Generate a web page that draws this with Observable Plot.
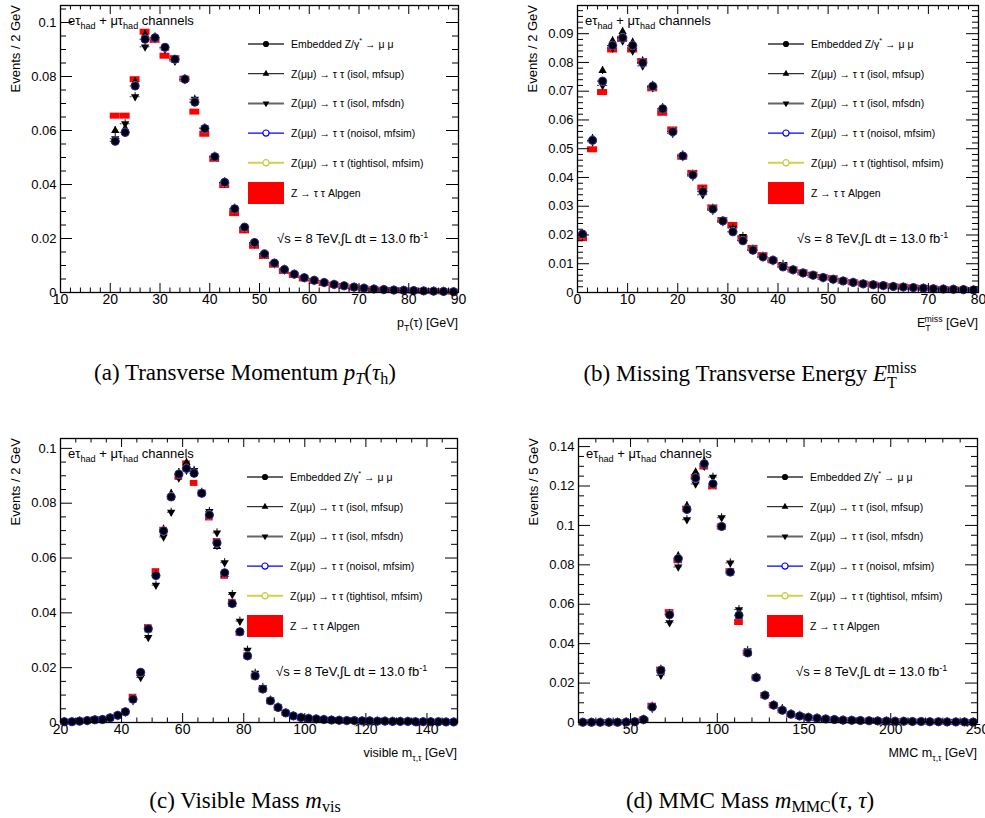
<!DOCTYPE html>
<html><head><meta charset="utf-8">
<script src="https://cdn.jsdelivr.net/npm/d3@7"></script>
<script src="https://cdn.jsdelivr.net/npm/@observablehq/plot@0.6"></script>
<style>
html,body{margin:0;padding:0;background:#fff;}
body{width:985px;height:818px;position:relative;overflow:hidden;font-family:"Liberation Sans",Arial,sans-serif;}
.panel{position:absolute;}
.cap{position:absolute;font-family:"Liberation Serif","Times New Roman",serif;font-size:23px;white-space:nowrap;transform:translateX(-50%);color:#000;}
.cap sub{font-size:0.7em;vertical-align:-0.25em;line-height:0;}
.ss{display:inline-block;vertical-align:-0.45em;line-height:0.95;font-size:0.7em;text-align:left;}
.ss span{display:block;}
</style></head><body>
<script>
// ---------------- DATA ----------------
// Legend labels
const legendEmbedded = ["Embedded Z/γ", "*", " → μ μ"];
const legendLabels = [
  "Z(μμ) → τ τ (isol, mfsup)",
  "Z(μμ) → τ τ (isol, mfsdn)",
  "Z(μμ) → τ τ (noisol, mfsim)",
  "Z(μμ) → τ τ (tightisol, mfsim)"
];
const legendAlpgen = "Z → τ τ Alpgen";
const lumiText = ["√s = 8 TeV,∫L dt = 13.0 fb", "-1"];
const channelText = ["eτ", "had", " + μτ", "had", " channels"];

// (a) pT(tau): bins of 2 GeV from 20
const aBinLo = 20, aBinW = 2;
const aEmb = [0.0560,0.0593,0.0765,0.0938,0.0944,0.0908,0.0864,0.0790,0.0705,0.0607,0.0503,0.0408,0.0310,0.0242,0.0185,0.0143,0.0109,0.0085,0.0068,0.0055,0.0045,0.0037,0.0030,0.0025,0.0020,0.0016,0.0013,0.0011,0.0009,0.0008,0.0007,0.0006,0.0005,0.0004,0.0003];
const aUp  = [0.0600,0.0608,0.0780,0.0956,0.0946,0.0905,0.0860,0.0792,0.0712,0.0605,0.0500,0.0410,0.0312,0.0240,0.0183,0.0141,0.0108,0.0086,0.0068,0.0055,0.0045,0.0037,0.0030,0.0025,0.0020,0.0016,0.0013,0.0011,0.0009,0.0008,0.0007,0.0006,0.0005,0.0004,0.0003];
const aDn  = [0.0570,0.0625,0.0725,0.0910,0.0940,0.0902,0.0857,0.0788,0.0716,0.0610,0.0505,0.0405,0.0305,0.0238,0.0180,0.0140,0.0106,0.0083,0.0067,0.0054,0.0044,0.0036,0.0029,0.0024,0.0019,0.0015,0.0012,0.0010,0.0009,0.0008,0.0007,0.0006,0.0005,0.0004,0.0003];
const aAlp = [0.0655,0.0655,0.0790,0.0966,0.0936,0.0877,0.0868,0.0792,0.0670,0.0588,0.0495,0.0398,0.0294,0.0230,0.0173,0.0135,0.0103,0.0080,0.0065,0.0052,0.0043,0.0035,0.0029,0.0024,0.0019,0.0015,0.0012,0.0010,0.0009,0.0008,0.0007,0.0006,0.0005,0.0004,0.0003];
const aXTicks = [10,20,30,40,50,60,70,80,90];
const aYTicks = [0,0.02,0.04,0.06,0.08,0.1];

// (b) MET: bins of 2 GeV from 0
const bBinLo = 0, bBinW = 2;
const bEmb = [0.0203,0.0529,0.0735,0.0859,0.0886,0.0859,0.0799,0.0717,0.0639,0.0559,0.0475,0.0409,0.0351,0.0290,0.0249,0.0211,0.0180,0.0147,0.0124,0.0112,0.0089,0.0079,0.0068,0.0060,0.0052,0.0046,0.0040,0.0035,0.0030,0.0027,0.0024,0.0021,0.0019,0.0017,0.0015,0.0013,0.0012,0.0011,0.0010,0.0009];
const bUp  = [0.0200,0.0535,0.0772,0.0875,0.0907,0.0870,0.0805,0.0720,0.0642,0.0557,0.0478,0.0411,0.0355,0.0293,0.0250,0.0215,0.0183,0.0150,0.0126,0.0113,0.0091,0.0080,0.0069,0.0060,0.0052,0.0046,0.0040,0.0035,0.0030,0.0027,0.0024,0.0021,0.0019,0.0017,0.0015,0.0013,0.0012,0.0011,0.0010,0.0009];
const bDn  = [0.0198,0.0524,0.0720,0.0850,0.0875,0.0840,0.0788,0.0712,0.0635,0.0553,0.0472,0.0404,0.0340,0.0285,0.0245,0.0224,0.0195,0.0150,0.0122,0.0110,0.0098,0.0078,0.0067,0.0059,0.0051,0.0045,0.0040,0.0035,0.0030,0.0027,0.0024,0.0021,0.0019,0.0017,0.0015,0.0013,0.0012,0.0011,0.0010,0.0009];
const bAlp = [0.0189,0.0498,0.0697,0.0845,0.0882,0.0845,0.0805,0.0710,0.0625,0.0567,0.0472,0.0416,0.0365,0.0296,0.0252,0.0235,0.0189,0.0155,0.0130,0.0112,0.0095,0.0080,0.0070,0.0062,0.0054,0.0050,0.0041,0.0036,0.0031,0.0028,0.0025,0.0022,0.0020,0.0018,0.0016,0.0014,0.0012,0.0011,0.0010,0.0009];
const bXTicks = [0,10,20,30,40,50,60,70,80];
const bYTicks = [0,0.01,0.02,0.03,0.04,0.05,0.06,0.07,0.08,0.09];

// (c) visible mass: bins of 2.5 GeV from 20
const cBinLo = 20, cBinW = 2.5;
const cEmb = [0.0003,0.0003,0.0005,0.0007,0.0010,0.0011,0.0017,0.0026,0.0039,0.0085,0.0183,0.0342,0.0536,0.0699,0.0823,0.0906,0.0927,0.0909,0.0836,0.0757,0.0655,0.0546,0.0434,0.0331,0.0243,0.0170,0.0122,0.0079,0.0055,0.0035,0.0024,0.0018,0.0015,0.0013,0.0011,0.0009,0.0008,0.0007,0.0007,0.0006,0.0006,0.0005,0.0005,0.0004,0.0004,0.0004,0.0003,0.0003,0.0003,0.0003,0.0002,0.0002];
const cUp  = [0.0003,0.0003,0.0005,0.0007,0.0010,0.0011,0.0017,0.0026,0.0039,0.0083,0.0178,0.0338,0.0538,0.0705,0.0835,0.0912,0.0948,0.0915,0.0838,0.0760,0.0642,0.0540,0.0430,0.0328,0.0240,0.0172,0.0122,0.0079,0.0055,0.0035,0.0024,0.0018,0.0015,0.0013,0.0011,0.0009,0.0008,0.0007,0.0007,0.0006,0.0006,0.0005,0.0005,0.0004,0.0004,0.0004,0.0003,0.0003,0.0003,0.0003,0.0002,0.0002];
const cDn  = [0.0003,0.0003,0.0005,0.0007,0.0010,0.0011,0.0016,0.0025,0.0037,0.0080,0.0164,0.0310,0.0501,0.0677,0.0767,0.0892,0.0920,0.0920,0.0840,0.0770,0.0692,0.0583,0.0467,0.0370,0.0264,0.0180,0.0128,0.0082,0.0057,0.0036,0.0025,0.0019,0.0015,0.0013,0.0011,0.0009,0.0008,0.0007,0.0007,0.0006,0.0006,0.0005,0.0005,0.0004,0.0004,0.0004,0.0003,0.0003,0.0003,0.0003,0.0002,0.0002];
const cAlp = [0.0003,0.0003,0.0005,0.0007,0.0012,0.0012,0.0017,0.0026,0.0040,0.0094,0.0180,0.0348,0.0552,0.0703,0.0823,0.0896,0.0945,0.0874,0.0836,0.0748,0.0662,0.0535,0.0440,0.0327,0.0245,0.0168,0.0121,0.0078,0.0054,0.0035,0.0024,0.0018,0.0015,0.0013,0.0011,0.0009,0.0008,0.0007,0.0007,0.0006,0.0006,0.0005,0.0005,0.0004,0.0004,0.0004,0.0003,0.0003,0.0003,0.0003,0.0002,0.0002];
const cXTicks = [20,40,60,80,100,120,140];
const cYTicks = [0,0.02,0.04,0.06,0.08,0.1];

// (d) MMC mass: bins of 5 GeV from 20
const dBinLo = 20, dBinW = 5;
const dEmb = [0.0001,0.0001,0.0001,0.0001,0.0001,0.0002,0.0004,0.0015,0.0079,0.0265,0.0547,0.0831,0.1081,0.1240,0.1313,0.1211,0.0995,0.0763,0.0544,0.0353,0.0228,0.0138,0.0088,0.0062,0.0042,0.0033,0.0026,0.0022,0.0018,0.0015,0.0012,0.0011,0.0010,0.0009,0.0008,0.0007,0.0006,0.0006,0.0005,0.0005,0.0004,0.0004,0.0003,0.0003,0.0003,0.0002];
const dUp  = [0.0001,0.0001,0.0001,0.0001,0.0001,0.0002,0.0004,0.0016,0.0082,0.0270,0.0552,0.0845,0.1100,0.1270,0.1325,0.1215,0.0990,0.0760,0.0540,0.0350,0.0226,0.0137,0.0090,0.0070,0.0044,0.0036,0.0026,0.0022,0.0018,0.0015,0.0012,0.0011,0.0010,0.0009,0.0008,0.0007,0.0006,0.0006,0.0005,0.0005,0.0004,0.0004,0.0003,0.0003,0.0003,0.0002];
const dDn  = [0.0001,0.0001,0.0001,0.0001,0.0001,0.0002,0.0004,0.0013,0.0072,0.0240,0.0507,0.0789,0.1029,0.1210,0.1300,0.1245,0.1039,0.0810,0.0573,0.0365,0.0232,0.0140,0.0089,0.0063,0.0043,0.0033,0.0026,0.0022,0.0018,0.0015,0.0012,0.0011,0.0010,0.0009,0.0008,0.0007,0.0006,0.0006,0.0005,0.0005,0.0004,0.0004,0.0003,0.0003,0.0003,0.0002];
const dAlp = [0.0001,0.0001,0.0001,0.0001,0.0001,0.0002,0.0005,0.0015,0.0085,0.0268,0.0560,0.0823,0.1085,0.1245,0.1299,0.1198,0.0995,0.0768,0.0510,0.0355,0.0228,0.0138,0.0088,0.0062,0.0042,0.0033,0.0026,0.0022,0.0018,0.0015,0.0012,0.0011,0.0010,0.0009,0.0008,0.0007,0.0006,0.0006,0.0005,0.0005,0.0004,0.0004,0.0003,0.0003,0.0003,0.0002];
const dXTicks = [50,100,150,200,250];
const dYTicks = [0,0.02,0.04,0.06,0.08,0.1,0.12,0.14];

// ---------------- DRAWING ----------------
const FONT = "Liberation Sans, Arial, Helvetica, sans-serif";
const triDown = {draw(ctx, size) {
  const y = Math.sqrt(size / (Math.sqrt(3) * 3)), s3 = Math.sqrt(3);
  ctx.moveTo(0, 2 * y); ctx.lineTo(s3 * y, -y); ctx.lineTo(-s3 * y, -y); ctx.closePath();
}};

function rich(text, parts, fs) {
  let shift = 0;
  for (const p of parts) {
    const target = p.sub ? fs * 0.32 : p.sup ? -fs * 0.42 : 0;
    const ts = text.append("tspan").attr("dy", target - shift).text(p.t);
    if (p.dx) ts.attr("dx", p.dx);
    if (p.sub || p.sup) ts.attr("font-size", fs * 0.7);
    shift = target;
  }
}

function fmtY(d) { return d === 0 ? "0" : String(+d.toFixed(3)); }

function ticksBetween(lo, hi, step, majors) {
  const n = Math.floor((hi - lo) / step + 1e-6);
  return d3.range(0, n + 1).map(k => +(lo + k * step).toFixed(6))
    .filter(v => !majors.some(t => Math.abs(t - v) < 1e-9));
}

function panel(cfg) {
  const {left, top, width, height, ml, mr, mt, mb, xDomain, yMax, lo, w, emb, up, dn, alp,
         xTicks, yTicks, xMinorStep, yMinorStep, xTitle, yTitle} = cfg;
  const fw = width - ml - mr, fh = height - mt - mb;
  const rows = emb.map((v, i) => ({
    x: lo + w * (i + 0.5), x1: lo + w * i, x2: lo + w * (i + 1),
    emb: v, up: up[i], dn: dn[i], alp: alp[i]
  })).filter(r => r.x1 >= xDomain[0] - 1e-9 && r.x2 <= xDomain[1] + 1e-9);
  const xMinor = ticksBetween(xDomain[0], xDomain[1], xMinorStep, xTicks);
  const yMinor = ticksBetween(0, yMax, yMinorStep, yTicks);
  const svg = Plot.plot({
    width, height, marginLeft: ml, marginRight: mr, marginTop: mt, marginBottom: mb,
    x: {domain: xDomain}, y: {domain: [0, yMax]},
    style: {fontFamily: FONT, fontSize: "13px", color: "black", background: "white", overflow: "visible"},
    marks: [
      // Alpgen boxes
      Plot.ruleY(rows, {y: "alp", x1: "x1", x2: "x2", stroke: "#ff0000", strokeWidth: 6}),
      // error bars
      Plot.ruleY(rows, {y: "emb", x1: "x1", x2: "x2", stroke: "black", strokeWidth: 1}),
      Plot.ruleX(rows, {x: "x", y1: "up", y2: "up", insetTop: -4, insetBottom: -4, stroke: "black", strokeWidth: 1}),
      Plot.ruleX(rows, {x: "x", y1: "dn", y2: "dn", insetTop: -4, insetBottom: -4, stroke: "black", strokeWidth: 1}),
      Plot.ruleY(rows, {y: "dn", x1: "x1", x2: "x2", stroke: "#444", strokeWidth: 1, strokeDasharray: "2,2"}),
      // markers
      Plot.dot(rows, {x: "x", y: "dn", symbol: triDown, r: 3.1, fill: "black", stroke: "none"}),
      Plot.dot(rows, {x: "x", y: "up", symbol: "triangle", r: 3.1, fill: "black", stroke: "none"}),
      Plot.dot(rows, {x: "x", y: "emb", r: 4.2, stroke: "#cccc33", strokeWidth: 1, fill: "none"}),
      Plot.dot(rows, {x: "x", y: "emb", r: 4, fill: "black", stroke: "none"}),
      Plot.dot(rows, {x: "x", y: "emb", r: 4, stroke: "#1a1acc", strokeWidth: 1, fill: "none"}),
      // ticks (ROOT style: inward, on all four sides)
      Plot.ruleY(yTicks, {insetRight: fw - 12, stroke: "black"}),
      Plot.ruleY(yMinor, {insetRight: fw - 6, stroke: "black"}),
      Plot.ruleY(yTicks, {insetLeft: fw - 12, stroke: "black"}),
      Plot.ruleY(yMinor, {insetLeft: fw - 6, stroke: "black"}),
      Plot.ruleX(xTicks, {insetTop: fh - 9, stroke: "black"}),
      Plot.ruleX(xMinor, {insetTop: fh - 4.5, stroke: "black"}),
      Plot.ruleX(xTicks, {insetBottom: fh - 9, stroke: "black"}),
      Plot.ruleX(xMinor, {insetBottom: fh - 4.5, stroke: "black"}),
      Plot.frame({stroke: "black", strokeWidth: 1.3}),
      Plot.axisY(yTicks, {tickSize: 0, tickPadding: 4, tickFormat: fmtY, fontSize: 13, label: null}),
      Plot.axisX(xTicks, {tickSize: 0, tickPadding: 2, tickFormat: d => String(d), fontSize: 14, label: null})
    ]
  });
  const g = d3.select(svg).append("g").attr("font-family", FONT).attr("fill", "black")
    .attr("text-anchor", "start").attr("stroke", "none");
  const R = ml + fw, T = mt;
  // channels label
  const ch = g.append("text").attr("x", ml + 8).attr("y", T + 20).attr("font-size", 13);
  rich(ch, [{t: channelText[0]}, {t: channelText[1], sub: true}, {t: channelText[2]}, {t: channelText[3], sub: true}, {t: channelText[4]}], 13);
  // legend
  const items = [
    {parts: [{t: legendEmbedded[0]}, {t: legendEmbedded[1], sup: true}, {t: legendEmbedded[2]}], line: "#666", lw: 2, sym: d3.symbolCircle, size: 30, fill: "black", stroke: "none"},
    {parts: [{t: legendLabels[0]}], line: "black", lw: 1, sym: d3.symbolTriangle, size: 20, fill: "black", stroke: "none"},
    {parts: [{t: legendLabels[1]}], line: "#666", lw: 2, sym: triDown, size: 20, fill: "black", stroke: "none"},
    {parts: [{t: legendLabels[2]}], line: "#0000ff", lw: 1.2, sym: d3.symbolCircle, size: 30, fill: "white", stroke: "#0000ff"},
    {parts: [{t: legendLabels[3]}], line: "#d2d24a", lw: 2, sym: d3.symbolCircle, size: 30, fill: "white", stroke: "#c8c830"}
  ];
  items.forEach((it, i) => {
    const cy = T + 39 + 29.7 * i;
    g.append("line").attr("x1", R - 210).attr("x2", R - 174).attr("y1", cy).attr("y2", cy)
      .attr("stroke", it.line).attr("stroke-width", it.lw);
    g.append("path").attr("transform", `translate(${R - 192},${cy})`)
      .attr("d", d3.symbol(it.sym, it.size)()).attr("fill", it.fill).attr("stroke", it.stroke).attr("stroke-width", 1.2);
    const t = g.append("text").attr("x", R - 167).attr("y", cy + 3.8).attr("font-size", 10.5);
    rich(t, it.parts, 10.5);
  });
  g.append("rect").attr("x", R - 210).attr("y", T + 177).attr("width", 36).attr("height", 22).attr("fill", "#ff0000");
  g.append("text").attr("x", R - 167).attr("y", T + 192).attr("font-size", 10.5).text(legendAlpgen);
  const lt = g.append("text").attr("x", R - 181).attr("y", T + 238).attr("font-size", 13);
  rich(lt, [{t: lumiText[0]}, {t: lumiText[1], sup: true}], 13);
  // axis titles
  const xt = g.append("text").attr("x", R).attr("y", T + fh + 35).attr("text-anchor", "end").attr("font-size", 12.5);
  rich(xt, xTitle, 12.5);
  g.append("text").attr("transform", `translate(${ml - 40},${T}) rotate(-90)`)
    .attr("text-anchor", "end").attr("font-size", 13).text(yTitle);
  const div = document.createElement("div");
  div.className = "panel";
  div.style.left = left + "px"; div.style.top = top + "px";
  div.appendChild(svg);
  document.body.appendChild(div);
}

panel({left: 0, top: 0, width: 490, height: 335, ml: 60, mr: 32, mt: 5, mb: 43,
  xDomain: [10, 90], yMax: 0.1063, lo: aBinLo, w: aBinW, emb: aEmb, up: aUp, dn: aDn, alp: aAlp,
  xTicks: aXTicks, yTicks: aYTicks, xMinorStep: 2, yMinorStep: 0.005,
  xTitle: [{t: "p"}, {t: "T", sub: true}, {t: "(τ) [GeV]"}], yTitle: "Events / 2 GeV"});
panel({left: 495, top: 0, width: 490, height: 335, ml: 82, mr: 7, mt: 5, mb: 43,
  xDomain: [0, 80], yMax: 0.0998, lo: bBinLo, w: bBinW, emb: bEmb, up: bUp, dn: bDn, alp: bAlp,
  xTicks: bXTicks, yTicks: bYTicks, xMinorStep: 2, yMinorStep: 0.002,
  xTitle: [{t: "E"}, {t: "T", sub: true}, {t: "miss", sup: true, dx: -6}, {t: " [GeV]"}], yTitle: "Events / 2 GeV"});
panel({left: 0, top: 433, width: 490, height: 332, ml: 60, mr: 33, mt: 5, mb: 43,
  xDomain: [20, 150], yMax: 0.1036, lo: cBinLo, w: cBinW, emb: cEmb, up: cUp, dn: cDn, alp: cAlp,
  xTicks: cXTicks, yTicks: cYTicks, xMinorStep: 5, yMinorStep: 0.005,
  xTitle: [{t: "visible m"}, {t: "τ,τ", sub: true}, {t: " [GeV]"}], yTitle: "Events / 2 GeV"});
panel({left: 495, top: 433, width: 490, height: 332, ml: 83, mr: 8, mt: 5, mb: 43,
  xDomain: [20, 250], yMax: 0.1441, lo: dBinLo, w: dBinW, emb: dEmb, up: dUp, dn: dDn, alp: dAlp,
  xTicks: dXTicks, yTicks: dYTicks, xMinorStep: 10, yMinorStep: 0.005,
  xTitle: [{t: "MMC m"}, {t: "τ,τ", sub: true}, {t: " [GeV]"}], yTitle: "Events / 5 GeV"});

// captions
const caps = [
  {x: 245, y: 360, html: '(a) Transverse Momentum <i>p</i><sub><i>T</i></sub>(<i>τ</i><sub>h</sub>)'},
  {x: 750, y: 360, html: '(b) Missing Transverse Energy <i>E</i><span class="ss"><span>miss</span><span>T</span></span>'},
  {x: 245, y: 788, html: '(c) Visible Mass <i>m</i><sub>vis</sub>'},
  {x: 750, y: 788, html: '(d) MMC Mass <i>m</i><sub>MMC</sub>(<i>τ</i>, <i>τ</i>)'}
];
for (const c of caps) {
  const d = document.createElement("div");
  d.className = "cap"; d.style.left = c.x + "px"; d.style.top = c.y + "px";
  d.innerHTML = c.html;
  document.body.appendChild(d);
}
</script>
</body></html>
